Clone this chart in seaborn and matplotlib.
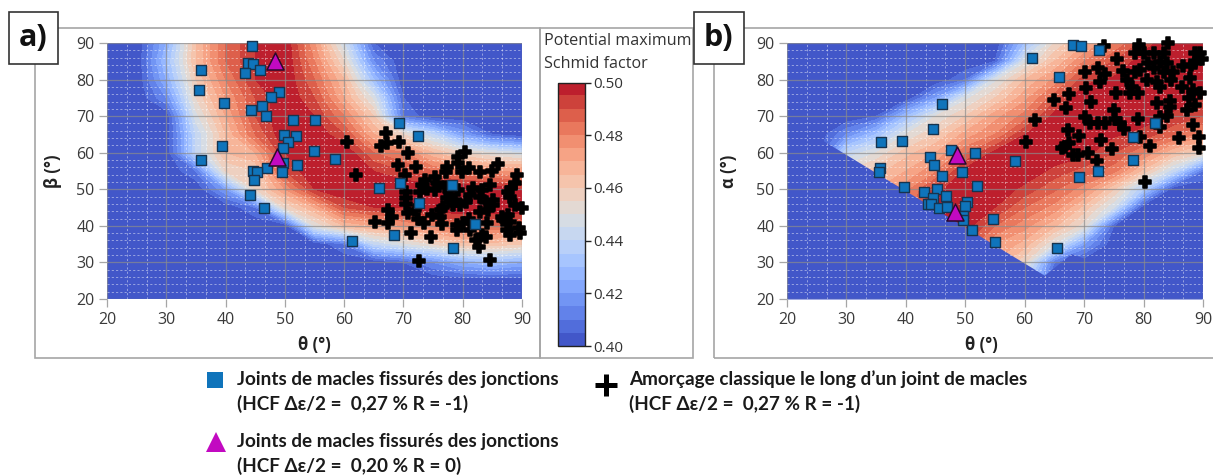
import numpy as np
import pandas as pd
import matplotlib
matplotlib.use("Agg")
import matplotlib.pyplot as plt
from matplotlib.patches import Rectangle
from matplotlib.lines import Line2D
from matplotlib.ticker import MultipleLocator
import seaborn as sns

W, H = 1213, 475

theta_grid = [20, 25, 30, 35, 40, 45, 50, 55, 60, 65, 70, 75, 80, 85, 90]
angle_rows = [90, 85, 80, 75, 70, 65, 60, 55, 50, 45, 40, 35, 30, 25, 20]

# potential maximum Schmid factor x 100
field_a = [
    [40,40,42.5,46.5,48.5,49.5,50,47.5,44.5,40.5,40,40,40,40,40],
    [40,40,43,46.5,48.5,49.5,50,48,45.5,41.5,40,40,40,40,40],
    [40,40,42.5,46,48,49.5,50,48.5,46.5,43,40,40,40,40,40],
    [40,40,41.5,45.5,47.5,49,50,49,47,44.8,40.5,40,40,40,40],
    [40,40,40,44.8,47,49,50,49.5,48,46,41,40,40,40,40],
    [40,40,40,44,46.5,48.5,50,50,49,47,45.5,44,42,40.5,40],
    [40,40,40,44,46.5,47,49.5,50,50,48.5,48,46.5,45.5,45,44.5],
    [40,40,40,41,45.5,46,49,50,50,49.5,49,48.5,48,47.5,47.5],
    [40,40,40,40,42,45.5,47.5,49.5,50,50,50,50,50,50,49.5],
    [40,40,40,40,40,41,45.5,47,49,49.5,49.5,50,50,50,50],
    [40,40,40,40,40,40,40,45,46.5,47,47.5,48,48.5,48.5,48.5],
    [40,40,40,40,40,40,40,40,41,44,44.8,45.5,46.3,46.3,46],
    [40,40,40,40,40,40,40,40,40,40,40.5,41.5,42.5,43,42.5],
    [40,40,40,40,40,40,40,40,40,40,40,40,40,40,40],
    [40,40,40,40,40,40,40,40,40,40,40,40,40,40,40],
]
field_b = [
    [40,40,40,40,40,40,40,40,43,45.5,46.8,48,49.2,50,50],
    [40,40,40,40,40,40,40,40.5,44.8,46.5,48,49,49.8,50,50],
    [40,40,40,40,40,40,41,44.8,46.5,47.6,49.3,49.6,50,50,49.8],
    [40,40,40,40,40,42,44.8,46,47.3,48.8,50,50,50,49.8,49.5],
    [40,40,40,40.5,43,45,46,47.3,48.2,49.7,50,50,49.8,49.4,49],
    [40,40,41.5,43,45,46,47.2,48,49.5,50,50,49.6,49.3,48.6,47.8],
    [40,40,44,45,46.3,47,48.4,49.7,50,50,49.7,49,48,46.5,45.5],
    [40,42,45.5,46.3,47,47.9,49.7,50,50,49.3,48.8,48.2,46.3,44.2,41],
    [40,42,46,47,47.8,49.3,50,50,49.3,48.6,47.7,46,43.5,40,40],
    [40,42,46,47,48,50,50,49.5,48.5,47.8,46.3,44.5,40,40,40],
    [40,42,46,47,48,50,49.8,48.5,47.7,46.6,45.2,40.5,40,40,40],
    [40,42,46,47,48,50,49,47.5,46.8,44.9,42,40,40,40,40],
    [40,42,46,47,48,50,49,47,45.5,41,40,40,40,40,40],
    [40,42,46,47,48,50,49,47,44,40,40,40,40,40,40],
    [40,40,40,40,40,40,40,40,40,40,40,40,40,40,40],
]
# lower edge of the populated domain in panel b
edge_theta = [20, 26, 63.3, 67.8, 90]
edge_alpha = [63.4, 63.4, 26.5, 32.4, 20]

sq_a_theta = [44.5,43.8,44.7,43.3,45.8,35.8,35.6,39.8,49,47.7,46.1,44.3,46.8,51.3,49.9,51.8,50.6,49.7,39.4,35.9,49.7,52,49.6,47,44.7,45.3,44.8,44.1,46.5,54.9,58.4,55.1,69.3,72.5,65.9,69.5,78.2,72.7,82.1,68.4,61.4,78.3]
sq_a_beta = [89.3,84.6,84.2,81.8,82.6,82.5,77.1,73.7,76.6,75.3,72.8,71.6,70.1,68.9,64.9,64.6,63,61.4,61.8,57.9,57.2,56.6,54.8,55.7,54.9,54.8,52.5,48.4,44.9,60.5,58.2,68.9,68,64.6,50.4,51.6,51.2,46.3,40.5,37.6,35.8,33.9]
tri_a_theta = [48.4, 48.7]
tri_a_beta = [85.1, 58.9]
cr_a_theta = [60.4,62,67,66.3,67.3,69.2,70.8,69.1,72.2,70.2,80.4,79.2,79.2,77.4,77.1,79.8,81.1,82.9,84.9,86,89.2,75.3,73.6,73.1,75.6,84.6,88.8,88.2,87.7,88,70.5,72.8,75.3,77,79.2,81.8,83.2,81.2,82.9,70.4,70.4,72,70.8,77.3,78.7,79.5,76.7,84,85.1,84.3,82.9,88.8,90,76.4,76.1,74.8,67.4,68,67.4,65.2,72.5,73.5,76.5,81,80.1,79,79,81.2,84.1,86.6,87.7,86.8,88,87.4,88,89.5,89.6,71.3,74.7,83.2,84,82.3,82.7,72.7,84.6,73.9,77.8,85.1,80.6,78.4]
cr_a_beta = [63,53.9,65.3,61.8,62.6,62.8,60,56.6,56.2,53.9,60.3,58.7,57.1,56.2,54.8,54.8,55.9,54.8,55,56.8,53.9,53.4,52.5,51.2,51.6,51.2,51.6,50.3,49.3,48,49.3,49.3,49.8,50.7,49.8,50.3,49.8,48.4,48,47.5,46.1,44.3,43.4,47.5,47,45.7,45.2,46.6,45.7,44.3,43.9,45.7,44.8,44.3,42.5,43,44.3,42.5,40.7,41,41.8,40.9,40.4,42,40.7,40.2,38.8,38.8,40.9,42.3,43,41.6,41.1,38.9,37.5,39.3,38.1,38.1,37,37.5,37,36.1,34.1,30.3,30.8,50.2,48.4,47,46.6,45.7]

sq_b_theta = [44.6,35.8,39.3,47.6,44,51.7,44.75,58.4,49.5,46,35.7,35.4,39.7,52,43,45.2,46.7,44.6,43.8,44.2,45.6,46.9,50.3,49.9,49.6,49.6,54.7,51.1,55,61.3,68.2,69.4,72.5,65.8,82,78.3,78.2,72.4,69.2,65.5,46]
sq_b_alpha = [66.5,62.8,63.2,60.7,58.8,60,56.6,57.6,54.7,53.7,55.7,54.7,50.5,50.8,49.3,50,48.2,47.6,46.1,45.9,44.8,45.1,46.6,45.4,42.7,41.6,42,38.8,35.5,85.9,89.5,89.2,88.1,80.7,68.1,64.3,57.9,54.9,53.4,34,73.3]
tri_b_theta = [48.6, 48.2]
tri_b_alpha = [59.4, 43.9]
cr_b_theta = [84.1,73.4,75.5,79.3,78.6,80,81.7,83.4,88.7,89.5,89.8,88.7,86.7,87.9,80.8,82.8,83.9,79.4,81.7,83.4,85,72.4,70.2,73.5,72.6,76.5,77.2,78.6,80.5,82.2,84.6,87.8,78,82.8,86.4,88.4,89.5,70.3,67.4,65,71.2,75.3,77.7,79,87.6,82.2,84.4,67,75,84.5,88.7,87.3,70.2,71,72.4,73.5,75.2,76,76.7,79.1,83.9,82.8,82.8,88.3,61.8,67.2,69.1,72.8,79.4,85.9,89.4,81,89.3,60.2,67.5,66.8,66.2,74.7,68.1,69,70.6,72.1,80.3]
cr_b_alpha = [90,89.2,85.6,89.5,87.4,87.2,87.2,87.2,87.4,87.2,85.5,84.4,83.7,84,84.4,84.9,84.4,82.6,83.1,82.2,82.2,83.2,82.2,81.4,79.4,82.4,80,82.2,79.9,79.4,79.9,80.3,78,78,78,77.1,76.4,77.6,76,74.5,74,76.2,76.2,76.2,74.9,73.7,74.2,72.2,71.7,72.4,73,71.7,69.7,68,68,68,69.1,68,66.4,69.1,70,69.7,66.9,67.6,69,66.2,64.7,63.6,64.4,64.1,64.2,61.8,61.2,63,62.6,61.6,61.2,60.9,59.4,59.4,60,57.8,52]

bar_ticks = [0.40, 0.42, 0.44, 0.46, 0.48, 0.50]
axis_ticks = [20, 30, 40, 50, 60, 70, 80, 90]
legend_square = ["Joints de macles fissurés des jonctions", "(HCF Δε/2 =  0,27 % R = -1)"]
legend_triangle = ["Joints de macles fissurés des jonctions", "(HCF Δε/2 =  0,20 % R = 0)"]
legend_plus = ["Amorçage classique le long d’un joint de macles", "(HCF Δε/2 =  0,27 % R = -1)"]

sns.set_theme(style="white")
plt.rcParams["font.family"] = ["Open Sans", "DejaVu Sans"]

fig = plt.figure(figsize=(W / 100, H / 100), dpi=100)


def rect(x0, x1, ytop, ybot):
    return [x0 / W, 1 - ybot / H, (x1 - x0) / W, (ybot - ytop) / H]


# panel frames
for x0, x1 in [(35, 540), (540, 693), (714, 1216)]:
    fig.add_artist(Rectangle((x0 / W, 1 - 358 / H), (x1 - x0) / W, 330 / H, transform=fig.transFigure,
                             fill=False, ec="#a6a6a6", lw=1.2))

levels = np.linspace(0.40, 0.5001, 21)
blue = plt.get_cmap("coolwarm")(0.025)


def panel(box, field, sq_x, sq_y, tri_x, tri_y, cr_x, cr_y):
    ax = fig.add_axes(rect(*box))
    cs = ax.contourf(theta_grid, angle_rows, np.array(field) / 100, levels=levels, cmap="coolwarm",
                     vmin=0.40, vmax=0.50, zorder=1)
    ax.set_xlim(20, 90)
    ax.set_ylim(20, 90)
    ax.set_xticks(axis_ticks)
    ax.set_yticks(axis_ticks)
    ax.xaxis.set_minor_locator(MultipleLocator(10 / 3))
    ax.yaxis.set_minor_locator(MultipleLocator(2))
    ax.grid(True, which="major", color="#8c8c8c", lw=0.9, alpha=0.7, zorder=3)
    ax.grid(True, which="minor", color="white", lw=0.7, ls=(0, (2.2, 2.2)), alpha=0.45, zorder=3)
    ax.tick_params(axis="both", which="major", length=6, width=0.9, color="#a6a6a6", left=True, bottom=True,
                   labelsize=11.5, labelcolor="#3a3a3a", pad=3)
    ax.tick_params(axis="both", which="minor", length=0)
    ax.set_axisbelow(False)
    for s in ax.spines.values():
        s.set_visible(False)
    cr = pd.DataFrame({"x": cr_x, "y": cr_y})
    sq = pd.DataFrame({"x": sq_x, "y": sq_y})
    tr = pd.DataFrame({"x": tri_x, "y": tri_y})
    sns.scatterplot(data=cr, x="x", y="y", marker="P", s=70, color="black", edgecolor="black", linewidth=1.1,
                    ax=ax, zorder=5, clip_on=False, legend=False)
    sns.scatterplot(data=sq, x="x", y="y", marker="s", s=50, color="#0f74bb", edgecolor="#17344f", linewidth=1.0,
                    ax=ax, zorder=6, clip_on=False, legend=False)
    sns.scatterplot(data=tr, x="x", y="y", marker="^", s=150, color="#c209c1", edgecolor="#2a0a2a", linewidth=1.1,
                    ax=ax, zorder=7, clip_on=False, legend=False)
    ax.set_xlabel("")
    ax.set_ylabel("")
    return ax, cs


ax_a, cs_a = panel((107, 522, 43, 299), field_a, sq_a_theta, sq_a_beta, tri_a_theta, tri_a_beta, cr_a_theta, cr_a_beta)
ax_b, cs_b = panel((787, 1203, 43, 299), field_b, sq_b_theta, sq_b_alpha, tri_b_theta, tri_b_alpha, cr_b_theta, cr_b_alpha)
ax_b.fill_between(edge_theta, 20, edge_alpha, color=blue, lw=0, zorder=2)

# colour bar
cax = fig.add_axes(rect(557.5, 584.5, 82.5, 346))
cb = fig.colorbar(cs_a, cax=cax, ticks=bar_ticks, format="%.2f")
cb.ax.tick_params(labelsize=11, length=4, width=1, color="#222222", labelcolor="#333333", pad=2, right=True)
cb.outline.set_edgecolor("#222222")
cb.outline.set_linewidth(1.0)
cb.ax.set_ylim(0.40, 0.50)


def ftext(x, y, s, **kw):
    fig.text(x / W, 1 - y / H, s, **kw)


ftext(544, 41, "Potential maximum", fontsize=11.6, color="#333333", va="center", ha="left")
ftext(544, 64, "Schmid factor", fontsize=11.6, color="#333333", va="center", ha="left")

# axis titles
ftext(314, 345, "θ (°)", fontsize=12, fontweight="bold", color="#222222", ha="center", va="center")
ftext(981, 345, "θ (°)", fontsize=12, fontweight="bold", color="#222222", ha="center", va="center")
ftext(53, 171, "β (°)", fontsize=12, fontweight="bold", color="#222222", ha="center", va="center", rotation=90)
ftext(729, 171, "α (°)", fontsize=12, fontweight="bold", color="#222222", ha="center", va="center", rotation=90)

# panel letters
for x0, x1, label in [(8.5, 58, "a)"), (693.5, 743.5, "b)")]:
    fig.add_artist(Rectangle((x0 / W, 1 - 64.5 / H), (x1 - x0) / W, 52 / H, transform=fig.transFigure,
                             fc="white", ec="#333333", lw=1.2, zorder=10))
    ftext((x0 + x1) / 2, 38, label, fontsize=22, fontweight="bold", color="#111111", ha="center", va="center",
          zorder=11)

# legend
lg = dict(fontsize=13.6, fontweight="bold", color="#1a1a1a", family=["Lato", "DejaVu Sans"], va="center", ha="left")
ftext(237, 379, legend_square[0], **lg)
ftext(237, 404, legend_square[1], **lg)
ftext(237, 441, legend_triangle[0], **lg)
ftext(237, 466, legend_triangle[1], **lg)
ftext(629, 379, legend_plus[0], **lg)
ftext(629, 404, legend_plus[1], **lg)
for x, y, m, ms, c, mew in [(215, 380, "s", 12, "#0f74bb", 0), (216, 442, "^", 15, "#c209c1", 0), (606, 385, "+", 16, "black", 3.6)]:
    fig.add_artist(Line2D([x / W], [1 - y / H], marker=m, ms=ms, color=c, mew=mew, ls="none",
                          transform=fig.transFigure))

fig.savefig("out.png", dpi=100)
